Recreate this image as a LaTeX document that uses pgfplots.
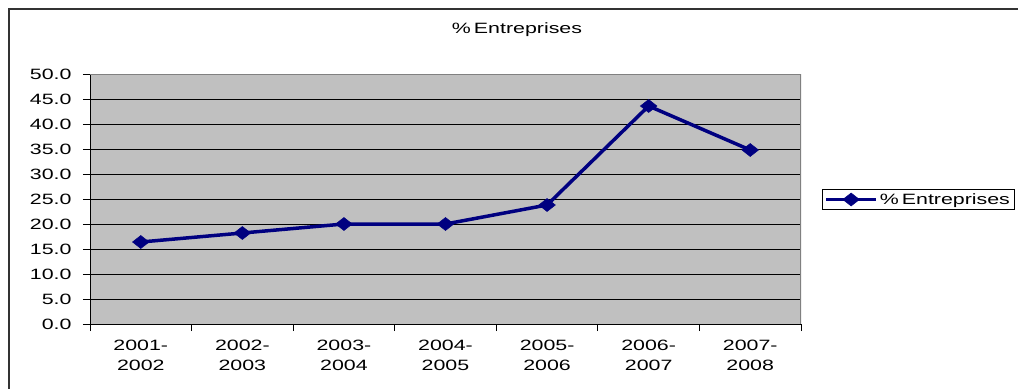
\documentclass[border=0pt]{standalone}
\usepackage{pgfplots}
\pgfplotsset{compat=1.18}
\usepackage{fontspec}
\setmainfont[FakeStretch=1.43]{Liberation Sans}
\definecolor{navyline}{RGB}{0,0,128}
\definecolor{plotbg}{RGB}{192,192,192}
\begin{document}
\begin{tikzpicture}[x=1bp,y=1bp]
\useasboundingbox (0,0) rectangle (1018,388);
\draw[line width=1.5bp, black!80] (9,-20) -- (9,379) -- (1040,379);
\node[font=\fontsize{15}{18}\selectfont] at (517,358) {\%\kern3bp Entreprises};
\begin{axis}[
  at={(90bp,64bp)}, anchor=south west,
  scale only axis, width=711bp, height=250bp,
  xmin=-0.5, xmax=6.5, ymin=0, ymax=50,
  axis background/.style={fill=plotbg},
  axis x line*=bottom, axis y line*=left,
  axis line style={black, line width=1bp},
  tick align=outside,
  major tick length=7bp,
  xtick={-0.5,0.5,1.5,2.5,3.5,4.5,5.5,6.5},
  xticklabels={},
  x tick style={black, line width=1bp},
  extra x ticks={0,1,2,3,4,5,6},
  extra x tick labels={{2001-\\2002},{2002-\\2003},{2003-\\2004},{2004-\\2005},{2005-\\2006},{2006-\\2007},{2007-\\2008}},
  extra x tick style={major tick length=0pt, grid=none},
  x tick label style={align=center, font=\fontsize{15}{20}\selectfont, yshift=-13bp},
  ytick={0,5,...,50},
  y tick style={black, line width=1bp},
  y tick label style={font=\fontsize{15}{18}\selectfont, xshift=-8bp},
  yticklabel style={/pgf/number format/.cd, fixed, fixed zerofill, precision=1, assume math mode=true},
  ymajorgrids, major grid style={black, line width=0.8bp},
  legend style={at={(1.0295,0.498)}, anchor=west, draw=black, line width=0.8bp,
    font=\fontsize{15}{18}\selectfont, inner sep=2bp, legend cell align=left},
  legend image code/.code={\draw[#1, mark repeat=2, mark phase=2] plot coordinates {(0bp,0bp) (25bp,0bp) (50bp,0bp)};},
]
\addplot[navyline, line width=3.5bp, mark=diamond*, mark size=6.5bp, mark options={xscale=1.7, line width=0.5bp}]
  coordinates {(0,16.4) (1,18.2) (2,20.0) (3,20.0) (4,23.8) (5,43.6) (6,34.8)};
\addlegendentry{\%\kern3bp Entreprises}
\draw[gray, line width=2bp] (rel axis cs:0,1) -- (rel axis cs:1,1) -- (rel axis cs:1,0);
\end{axis}
\end{tikzpicture}
\end{document}
